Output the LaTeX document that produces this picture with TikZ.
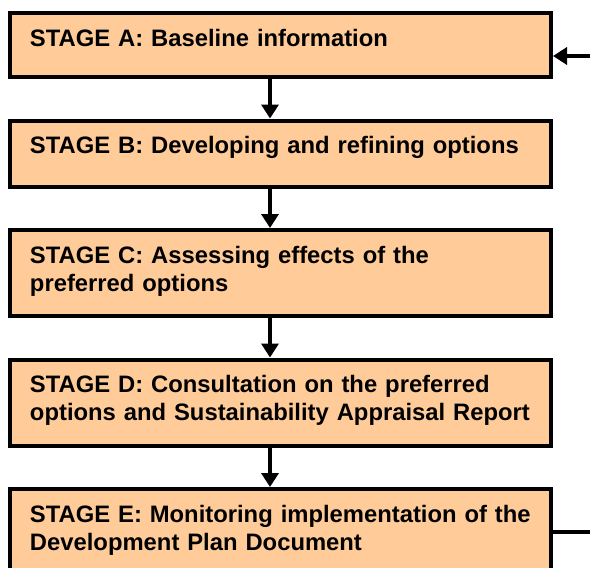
\documentclass[tikz,border=0pt]{standalone}
\usepackage{fontspec}
\setmainfont{Liberation Sans}
\usepackage{tikz}
\usetikzlibrary{
    arrows.meta,
    positioning
}
\definecolor{stagefill}{RGB}{255,204,153}

\begin{document}
\begin{tikzpicture}[
    x=1pt, y=1pt,
    stagebox/.style={draw, line width=4pt, fill=stagefill, text width=501pt, inner xsep=20pt, inner ysep=0pt, outer sep=0pt,
        align=left, font=\bfseries\fontsize{23.8pt}{28pt}\selectfont, text height=33pt,
        execute at begin node={\hyphenpenalty=10000}},
    flow/.style={-{Triangle[length=14pt,width=17pt]}, line width=4pt, shorten >=2pt},
    node distance=43.5pt
]
    % Frame of the picture
    \useasboundingbox (0,0) rectangle (590,-568);
    \clip (0,0) rectangle (590,-568);

    % Stages
    \node[stagebox, text depth=31pt, anchor=north west] (stageA) at (10,-13) {STAGE A: Baseline information};
    \node[stagebox, text depth=33pt, below=of stageA] (stageB) {STAGE B: Developing and refining options};
    \node[stagebox, text depth=53pt, below=of stageB] (stageC) {STAGE C: Assessing effects of the\\preferred options};
    \node[stagebox, text depth=53pt, below=of stageC] (stageD) {STAGE D: Consultation on the preferred\\options and Sustainability Appraisal Report};
    \node[stagebox, text depth=53pt, below=of stageD] (stageE) {STAGE E: Monitoring implementation of the\\Development Plan Document};

    % Arrows between stages
    \foreach \from/\to in {stageA/stageB, stageB/stageC, stageC/stageD, stageD/stageE}
        \draw[flow] ([xshift=-10.5pt]\from.south) -- ([xshift=-10.5pt]\to.north);

    % Loop back from monitoring to baseline
    \draw[flow] (stageE.east) -- ++(60,0) |- ([yshift=-11pt]stageA.east);
\end{tikzpicture}
\end{document}
